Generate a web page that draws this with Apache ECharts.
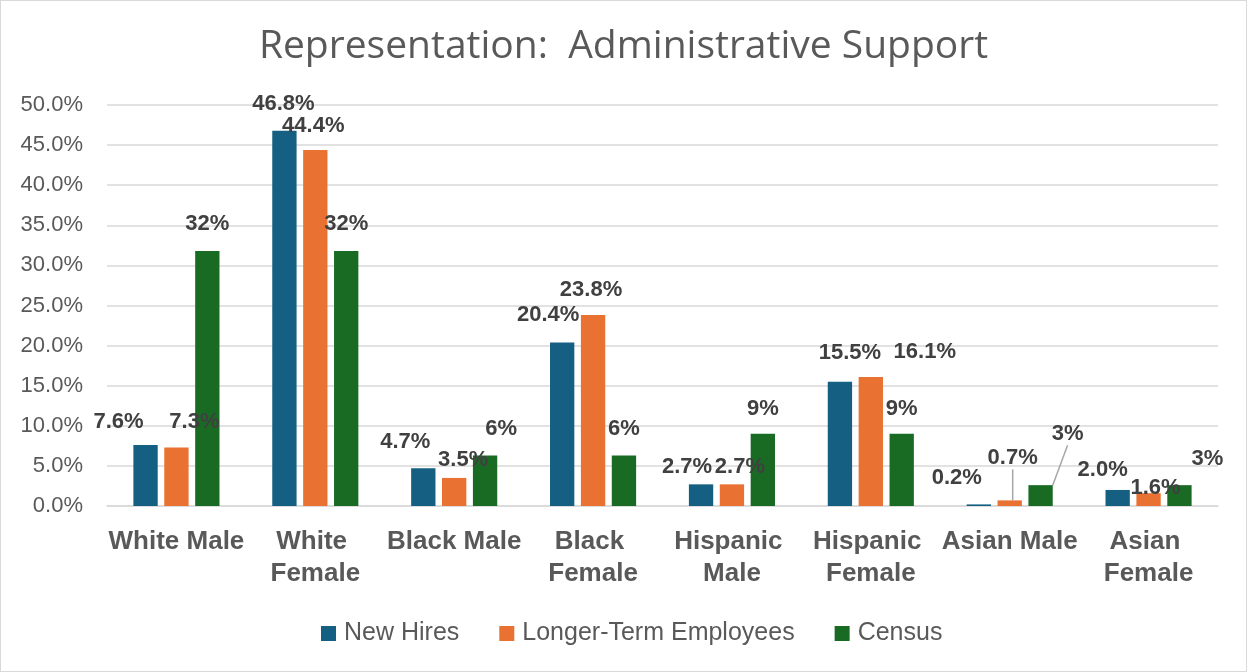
<!DOCTYPE html>
<html>
<head>
<meta charset="utf-8">
<title>Representation: Administrative Support</title>
<script src="https://cdn.jsdelivr.net/npm/echarts@6/dist/echarts.min.js"></script>
<style>
  html, body { margin: 0; padding: 0; background: #ffffff; }
  #chart { width: 1245px; height: 670px; border: 1px solid #d9d9d9; }
</style>
</head>
<body>
<div id="chart"></div>
<script>
// Groups along the horizontal axis
const categories = ['White Male', 'White Female', 'Black Male', 'Black Female',
                    'Hispanic Male', 'Hispanic Female', 'Asian Male', 'Asian Female'];

// Share of each group, in percent
const newHires        = [7.6, 46.8, 4.7, 20.4, 2.7, 15.5, 0.2, 2.0];
const longerTerm      = [7.3, 44.4, 3.5, 23.8, 2.7, 16.1, 0.7, 1.6];
const census          = [31.8, 31.8, 6.3, 6.3, 9.0, 9.0, 2.6, 2.6];

const seriesNames = ['New Hires', 'Longer-Term Employees', 'Census'];

// Value axis ticks (percent)
const yTicks = [0, 5, 10, 15, 20, 25, 30, 35, 40, 45, 50];

// Per-label nudges [dx, dy] from the default "top" spot, one row per series
const labelNudge = [
  [[-27, -7], [-1, -11], [-18, -10], [-14, -11], [-14, -1], [10, -13], [-22, -10], [-15, -4]],
  [[18, -10], [-2, -8], [9, -2], [-2, -9], [8, -1], [54, -9], [3, -26], [7, 11]],
  [[0, -11], [0, -11], [16, -11], [0, -11], [0, -9], [0, -9], [27, -35], [28, -10]]
];
// Labels that get a leader line back to their bar
const leaderLine = [
  [false, false, false, false, false, false, false, false],
  [false, false, false, false, false, false, true, false],
  [false, false, false, false, false, false, true, false]
];

const colors = ['#156082', '#E97132', '#196B24'];
const values = [newHires, longerTerm, census];
const fmt = [v => v.toFixed(1) + '%', v => v.toFixed(1) + '%', v => Math.round(v) + '%'];

const chart = echarts.init(document.getElementById('chart'), null, { renderer: 'canvas' });

const series = values.map((vals, s) => ({
  name: seriesNames[s],
  type: 'bar',
  barGap: '27%',
  barCategoryGap: '38%',
  itemStyle: { color: colors[s] },
  data: vals.map((v, i) => ({ value: v, labelLine: { show: leaderLine[s][i] } })),
  label: {
    show: true,
    position: 'top',
    distance: 5,
    formatter: p => fmt[s](p.value),
    fontFamily: 'Liberation Sans',
    fontWeight: 'bold',
    fontSize: 22,
    color: '#404040'
  },
  labelLine: {
    show: false,
    lineStyle: { color: '#a6a6a6', width: 1.5 }
  },
  labelLayout: p => {
    const n = labelNudge[p.seriesIndex][p.dataIndex];
    return { dx: n[0], dy: n[1] };
  }
}));

chart.setOption({
  animation: false,
  backgroundColor: '#ffffff',
  color: colors,
  title: {
    text: 'Representation:  Administrative Support',
    left: 'center',
    top: 21,
    textStyle: {
      fontFamily: 'Open Sans',
      fontWeight: 'normal',
      fontSize: 39,
      color: '#595959'
    }
  },
  legend: {
    data: seriesNames,
    left: 315,
    top: 615,
    icon: 'rect',
    itemWidth: 15,
    itemHeight: 15,
    itemGap: 40,
    textStyle: {
      fontFamily: 'Liberation Sans',
      fontSize: 25,
      color: '#595959',
      padding: [0, 0, 0, 3]
    }
  },
  grid: {
    left: 106,
    right: 28,
    top: 104,
    bottom: 165,
    containLabel: false
  },
  xAxis: {
    type: 'category',
    data: categories,
    axisTick: { show: false },
    axisLine: { lineStyle: { color: '#d9d9d9', width: 1.5 } },
    axisLabel: {
      interval: 0,
      margin: 20,
      fontFamily: 'Liberation Sans',
      fontWeight: 'bold',
      fontSize: 26,
      lineHeight: 32,
      color: '#595959',
      width: 139,
      overflow: 'break'
    }
  },
  yAxis: {
    type: 'value',
    min: yTicks[0],
    max: yTicks[yTicks.length - 1],
    interval: yTicks[1] - yTicks[0],
    axisLine: { show: false },
    axisTick: { show: false },
    splitLine: { lineStyle: { color: '#d9d9d9', width: 1.5 } },
    axisLabel: {
      margin: 24,
      fontFamily: 'Liberation Sans',
      fontSize: 22,
      color: '#595959',
      formatter: v => v.toFixed(1) + '%'
    }
  },
  series: series
});
</script>
</body>
</html>
